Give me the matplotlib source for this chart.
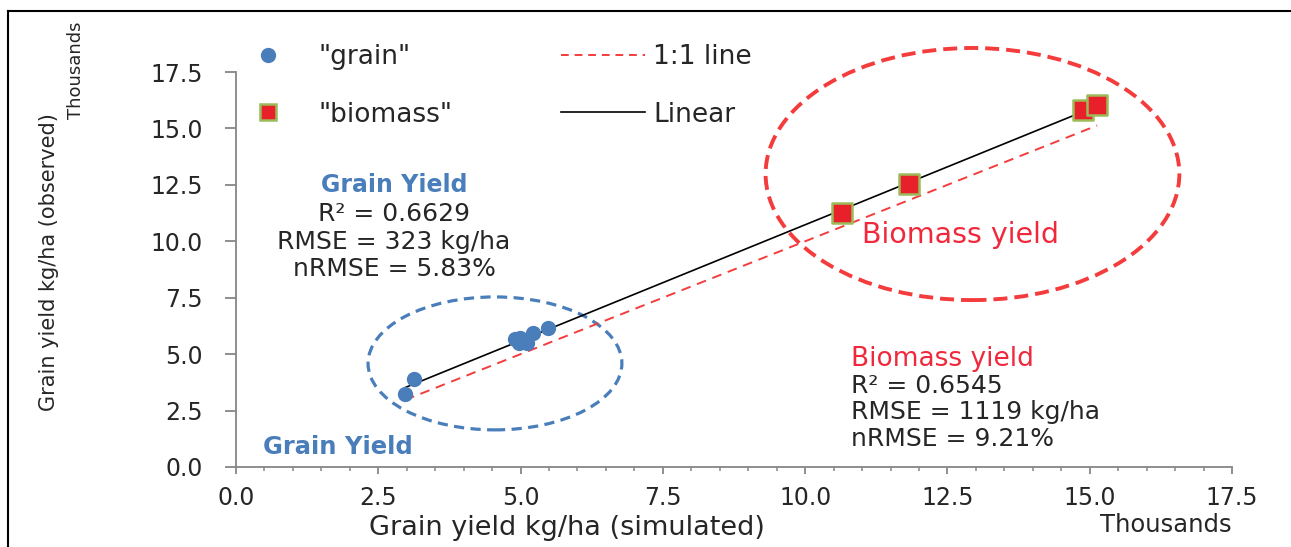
import numpy as np
import matplotlib
matplotlib.use("Agg")
import matplotlib.pyplot as plt
from matplotlib.patches import Ellipse
from matplotlib.lines import Line2D
from matplotlib.ticker import MultipleLocator

plt.rcParams['font.family'] = ['DejaVu Sans']

# ---- data (thousands kg/ha) ----
grain_sim = [2.97, 3.13, 4.90, 4.99, 4.97, 5.11, 5.22, 5.48]
grain_obs = [3.23, 3.90, 5.67, 5.72, 5.49, 5.49, 5.94, 6.16]
biomass_sim = [10.65, 11.83, 14.89, 15.13]
biomass_obs = [11.25, 12.54, 15.82, 16.04]
tick_values = [0.0, 2.5, 5.0, 7.5, 10.0, 12.5, 15.0, 17.5]
tick_labels = ["0.0", "2.5", "5.0", "7.5", "10.0", "12.5", "15.0", "17.5"]

grain_stats = ["R\u00b2 = 0.6629", "RMSE = 323 kg/ha", "nRMSE = 5.83%"]
biomass_stats = ["R\u00b2 = 0.6545", "RMSE = 1119 kg/ha", "nRMSE = 9.21%"]

W, H = 1291, 547
fig = plt.figure(figsize=(W / 100, H / 100), dpi=100, facecolor='white')
ax = fig.add_axes([236 / W, 1 - 467 / H, (1232 - 236) / W, (467 - 72) / H])

BLUE = '#4a7ebb'
RED_FILL = '#e8202a'
GREEN_EDGE = '#9bbb59'
RED_LINE = '#f43c3c'
RED_TEXT = '#f0283c'
DARK = '#262626'
GRAY = '#868686'

all_x = np.array(grain_sim + biomass_sim)
all_y = np.array(grain_obs + biomass_obs)
slope, intercept = np.polyfit(all_x, all_y, 1)
xs = np.array([all_x.min(), all_x.max()])

ax.plot(xs, xs, color=RED_LINE, lw=1.4, dashes=(5, 3.5), zorder=2)
ax.plot(xs, slope * xs + intercept, color='black', lw=1.2, zorder=3)

ax.scatter(grain_sim, grain_obs, s=100, color=BLUE, edgecolors=BLUE, zorder=4)
ax.scatter(biomass_sim, biomass_obs, marker='s', s=190, color=RED_FILL,
           edgecolors=GREEN_EDGE, linewidths=1.8, zorder=4)

# annotation ellipses
ax.add_patch(Ellipse((4.55, 4.59), 4.46, 5.89, fill=False, ec=BLUE, lw=2.3,
                     linestyle=(0, (3.2, 2.0)), clip_on=False, zorder=1))
ax.add_patch(Ellipse((12.94, 12.98), 7.27, 11.17, fill=False, ec=RED_LINE, lw=2.8,
                     linestyle=(0, (3.6, 1.8)), clip_on=False, zorder=1))

ax.set_xlim(0, 17.5)
ax.set_ylim(0, 17.5)
ax.set_xticks(tick_values)
ax.set_xticklabels(tick_labels)
ax.set_yticks(tick_values)
ax.set_yticklabels(tick_labels)
ax.xaxis.set_minor_locator(MultipleLocator(0.5))

for s in ['top', 'right']:
    ax.spines[s].set_visible(False)
for s in ['left', 'bottom']:
    ax.spines[s].set_color(GRAY)
    ax.spines[s].set_linewidth(1.3)

ax.tick_params(axis='x', which='major', direction='out', length=5, width=1.3,
               color=GRAY, labelsize=17, labelcolor=DARK, pad=9)
ax.tick_params(axis='x', which='minor', direction='out', length=3, width=1.1,
               color=GRAY)
ax.tick_params(axis='y', which='major', direction='out', length=8, width=1.3,
               color=GRAY, labelsize=17, labelcolor=DARK, pad=16)

def ftext(x, y, s, **kw):
    fig.text(x / W, 1 - y / H, s, **kw)

# axis labels
ftext(567, 528, "Grain yield kg/ha (simulated)", ha='center', va='center',
      fontsize=19.5, color=DARK)
ftext(49, 262, "Grain yield kg/ha (observed)", ha='center', va='center',
      fontsize=15, color=DARK, rotation=90)
ftext(76, 70, "Thousands", ha='center', va='center', fontsize=13,
      color=DARK, rotation=90)
ftext(1166, 525, "Thousands", ha='center', va='center', fontsize=17.5,
      color=DARK)

# legend
handles = [
    Line2D([], [], ls='none', marker='o', ms=10, color=BLUE),
    Line2D([], [], ls='none', marker='s', ms=12, mfc=RED_FILL, mec=GREEN_EDGE, mew=1.8),
    Line2D([], [], color=RED_LINE, lw=1.4, dashes=(4, 3)),
    Line2D([], [], color='black', lw=1.2),
]
labels = ['"grain"', '"biomass"', '1:1 line', 'Linear']
leg = ax.legend(handles, labels, ncol=2, loc='upper left',
                bbox_to_anchor=(226 / W, 1 - 44 / H), bbox_transform=fig.transFigure,
                frameon=False, fontsize=19, handlelength=3.2, handletextpad=0.3,
                labelspacing=1.2, columnspacing=4.1, borderpad=0, borderaxespad=0)
for t in leg.get_texts():
    t.set_color(DARK)

# statistics annotations
ftext(394, 185, "Grain Yield", ha='center', va='center', fontsize=17,
      fontweight='bold', color=BLUE)
for s, y in zip(grain_stats, [214, 242, 269]):
    ftext(394, y, s, ha='center', va='center', fontsize=18, color=DARK)

ftext(851, 359, "Biomass yield", ha='left', va='center', fontsize=19, color=RED_TEXT)
for s, y in zip(biomass_stats, [386, 412, 439]):
    ftext(851, y, s, ha='left', va='center', fontsize=18, color=DARK)

ftext(862, 235, "Biomass yield", ha='left', va='center', fontsize=20.5, color=RED_TEXT)
ftext(263, 447, "Grain Yield", ha='left', va='center', fontsize=17.5,
      fontweight='bold', color=BLUE)

# outer frame (top and left)
fig.add_artist(Line2D([8 / W, 1.0], [1 - 11 / H, 1 - 11 / H], transform=fig.transFigure,
                      color='black', lw=1.5))
fig.add_artist(Line2D([8 / W, 8 / W], [0.0, 1 - 11 / H], transform=fig.transFigure,
                      color='black', lw=1.5))

fig.savefig("out.png", dpi=100, facecolor='white')
